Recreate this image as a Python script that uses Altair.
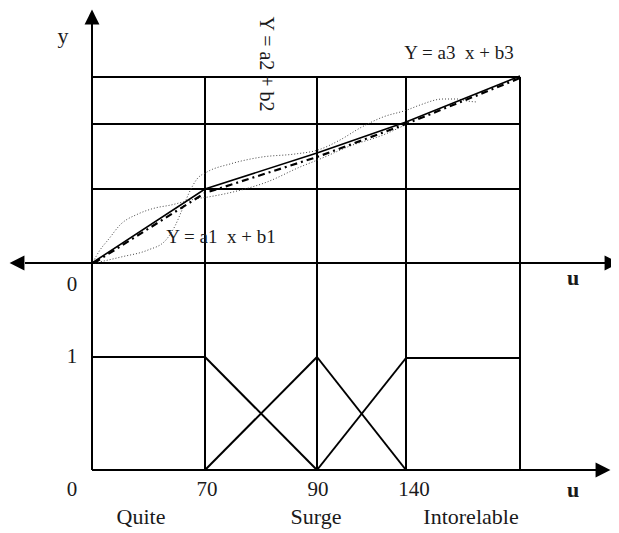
import altair as alt
import pandas as pd

# ---- diagram geometry (diagram units, y grows downward) ----
# straight segments: x1, y1, x2, y2
seg_x1 = [25, 92, 92, 92, 92, 92, 406, 92, 205, 317, 406, 520, 205, 205, 317, 317]
seg_y1 = [263, 77, 124, 189, 470, 357, 358, 24, 77, 77, 77, 77, 357, 470, 357, 470]
seg_x2 = [605, 520, 520, 520, 597, 205, 520, 92, 205, 317, 406, 520, 317, 317, 406, 406]
seg_y2 = [263, 77, 124, 189, 470, 357, 358, 470, 470, 470, 470, 470, 470, 357, 470, 358]

# arrow heads: x, y, direction
arr_x = [92, 17, 612, 603]
arr_y = [17, 263, 263, 470]
arr_dir = ["up", "left", "right", "right"]

# piecewise linear function Y = a x + b
solid_x = [92, 205, 317, 406, 520]
solid_y = [263, 189, 153, 122, 76]
# dash-dot approximation
dd_x = [94, 205, 317, 406, 520]
dd_y = [263, 193, 157, 124, 78]
# dotted curves
p_x = [93, 100, 108, 121, 138, 155, 171, 183, 195, 208, 233, 267, 300, 320, 350, 383, 407]
p_y = [262, 250, 240, 224, 214, 208, 205, 202, 199, 197, 192, 182, 167, 159, 146, 135, 124]
q_x = [95, 121, 148, 165, 175, 182, 189, 197, 207, 230, 262, 295, 318, 340, 360, 383, 407, 420, 443, 457, 467, 477]
q_y = [263, 257, 250, 241, 226, 210, 193, 179, 172, 164, 157, 154, 150, 140, 128, 117, 110, 105, 99, 99, 101, 102]

NB = "\u00a0"
# labels (text, x, y, size)
lab_text = ["y", "0", "1", "0", "70", "90", "140", "Quite", "Surge", "Intorelable",
            "Y = a3" + NB + NB + "x + b3", "Y = a1" + NB + NB + "x + b1"]
lab_x = [63, 72, 72, 72, 207, 318, 414, 141, 316, 471, 459, 221]
lab_y = [36, 285, 357, 490, 490, 490, 490, 517, 517, 517, 53, 237]
lab_size = [22, 21, 21, 21, 21, 21, 21, 22, 22, 22, 19, 19]
u_text = ["u", "u"]
u_x = [573, 573]
u_y = [278, 490]
rot_text = ["Y = a2 + b2"]
rot_x = [266]
rot_y = [64]

# ---- build tables ----
segs = pd.DataFrame({"x": seg_x1, "y": seg_y1, "x2": seg_x2, "y2": seg_y2})
arrows = pd.DataFrame({"x": arr_x, "y": arr_y, "d": arr_dir})
solid = pd.DataFrame({"x": solid_x, "y": solid_y})
dd = pd.DataFrame({"x": dd_x, "y": dd_y})
dots = pd.concat([
    pd.DataFrame({"x": p_x, "y": p_y, "s": "p"}),
    pd.DataFrame({"x": q_x, "y": q_y, "s": "q"}),
])
labels = pd.DataFrame({"t": lab_text, "x": lab_x, "y": lab_y, "fs": lab_size})
ulabels = pd.DataFrame({"t": u_text, "x": u_x, "y": u_y})
rlabels = pd.DataFrame({"t": rot_text, "x": rot_x, "y": rot_y})

xs = alt.Scale(domain=[8, 611], nice=False, zero=False)
ys = alt.Scale(domain=[8, 530], nice=False, zero=False, reverse=True)
X = lambda f="x": alt.X(f"{f}:Q", scale=xs, axis=None)
Y = lambda f="y": alt.Y(f"{f}:Q", scale=ys, axis=None)

font = "Liberation Serif"
tcol = "#1a1a1a"

rules = alt.Chart(segs).mark_rule(color="black", strokeWidth=2).encode(
    x=X(), y=Y(), x2="x2:Q", y2="y2:Q")

paths = {"up": "M0,-1L1,1L-1,1Z", "left": "M-1,0L1,-1L1,1Z", "right": "M1,0L-1,-1L-1,1Z"}
heads = []
for d, p in paths.items():
    heads.append(
        alt.Chart(arrows[arrows.d == d]).mark_point(
            shape=p, filled=True, color="black", size=220, opacity=1, strokeWidth=0
        ).encode(x=X(), y=Y())
    )

solid_line = alt.Chart(solid).mark_line(color="black", strokeWidth=1.6).encode(x=X(), y=Y())
dd_line = alt.Chart(dd).mark_line(color="black", strokeWidth=2.2, strokeDash=[7, 4, 2, 4]).encode(
    x=X(), y=Y())
dot_lines = alt.Chart(dots).mark_line(
    color="#444444", strokeWidth=1, strokeDash=[1, 2], interpolate="monotone"
).encode(x=X(), y=Y(), detail="s:N")

text = alt.Chart(labels).mark_text(font=font, color=tcol,
                                   baseline="middle", align="center").encode(
    x=X(), y=Y(), text="t:N", size=alt.Size("fs:Q", scale=None, legend=None))
utext = alt.Chart(ulabels).mark_text(font=font, fontSize=22, fontWeight="bold", color=tcol,
                                     baseline="middle", align="center").encode(
    x=X(), y=Y(), text="t:N")
rtext = alt.Chart(rlabels).mark_text(font=font, fontSize=20, color=tcol, angle=90,
                                     baseline="middle", align="center").encode(
    x=X(), y=Y(), text="t:N")

chart = alt.layer(rules, *heads, dot_lines, dd_line, solid_line, text, utext, rtext).properties(
    width=603, height=522, autosize="none", padding=0
).configure_view(stroke=None)

chart.save("out.html", embed_options={"renderer": "svg", "actions": False})
